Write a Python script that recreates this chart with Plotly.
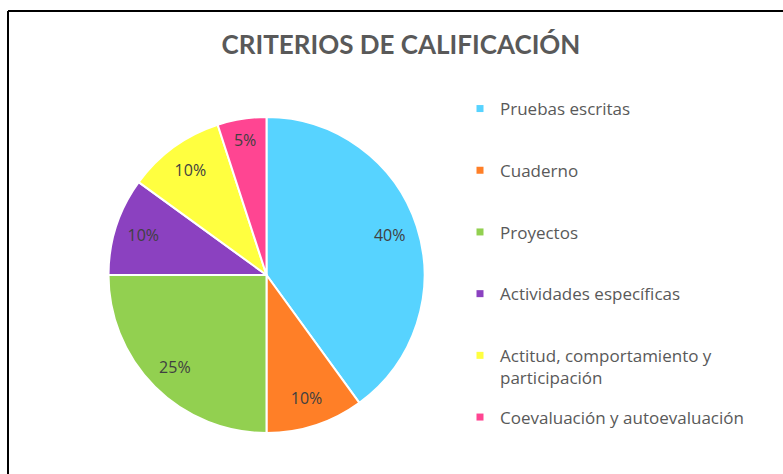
import plotly.graph_objects as go

categories = ["Pruebas escritas", "Cuaderno", "Proyectos", "Actividades específicas",
              "Actitud, comportamiento y<br>participación", "Coevaluación y autoevaluación"]
values = [40, 10, 25, 10, 10, 5]
colors = ["#57D3FF", "#FF7F27", "#92D050", "#8B41C0", "#FFFF40", "#FF4592"]

W, H = 783, 474
dom = dict(x=[108 / W, 425 / W], y=[1 - 433 / H, 1 - 117 / H])

fig = go.Figure()
fig.add_trace(go.Pie(
    labels=categories, values=values, sort=False, direction="clockwise", rotation=0,
    marker=dict(colors=colors, line=dict(color="white", width=2)),
    textinfo="none", showlegend=False, domain=dom,
))
# transparent ring carrying the percentage labels (puts them near the rim)
fig.add_trace(go.Pie(
    labels=categories, values=values, sort=False, direction="clockwise", rotation=0,
    hole=0.64,
    marker=dict(colors=["rgba(0,0,0,0)"] * len(values), line=dict(width=0)),
    textinfo="percent", textposition="inside", insidetextorientation="horizontal",
    textfont=dict(family="Open Sans", size=16, color="#404040"),
    showlegend=False, hoverinfo="skip", domain=dom,
))

for i, (lab, col) in enumerate(zip(categories, colors)):
    last = i == len(categories) - 1
    name = lab if ("<br>" in lab or last) else lab + "<br> "
    fig.add_trace(go.Scatter(
        x=[None], y=[None], mode="markers", name=name, legendgroup=str(i),
        marker=dict(symbol="square", size=7, color=col),
    ))

fig.update_layout(
    width=W, height=H, margin=dict(l=0, r=0, t=0, b=0),
    paper_bgcolor="white", plot_bgcolor="white",
    xaxis=dict(visible=False), yaxis=dict(visible=False),
    title=dict(text="<b>CRITERIOS DE CALIFICACIÓN</b>", x=401 / W, xanchor="center",
               y=1 - 45 / H, yanchor="middle",
               font=dict(family="Lato", size=26, color="#595959")),
    legend=dict(x=460 / W, xanchor="left", y=1 - 91 / H, yanchor="top",
                valign="top", tracegroupgap=14.5, itemwidth=30,
                font=dict(family="Open Sans", size=17, color="#595959")),
    shapes=[
        dict(type="line", xref="paper", yref="paper", x0=8 / W, x1=1.0,
             y0=1 - 11 / H, y1=1 - 11 / H, line=dict(color="black", width=2)),
        dict(type="line", xref="paper", yref="paper", x0=8 / W, x1=8 / W,
             y0=1 - 11 / H, y1=0, line=dict(color="black", width=2)),
    ],
)

fig.write_html("out.html", config={"displayModeBar": False},
               post_script="document.body.style.margin='0';")
